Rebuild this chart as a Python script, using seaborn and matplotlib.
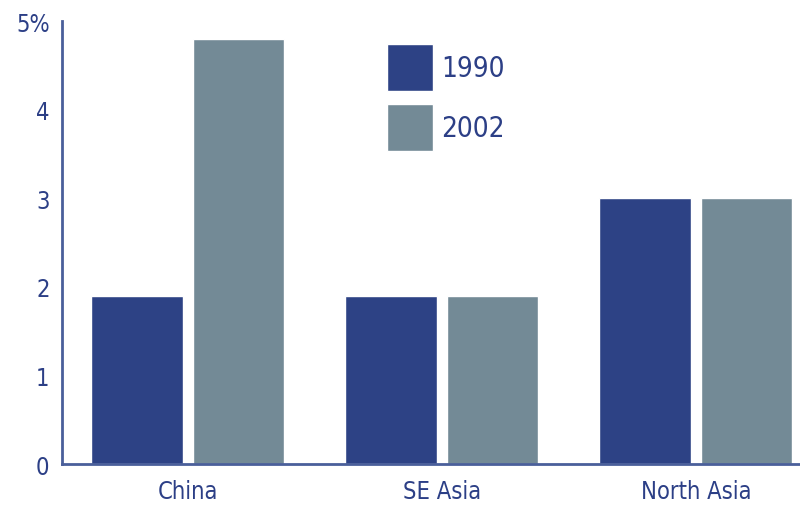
import matplotlib
matplotlib.use("Agg")
import matplotlib.pyplot as plt
import seaborn as sns
import pandas as pd

regions = ["China", "SE Asia", "North Asia"]
years = ["1990", "2002"]
share_1990 = [1.9, 1.9, 3.0]
share_2002 = [4.8, 1.9, 3.0]
y_ticks = [0, 1, 2, 3, 4, 5]
y_labels = ["0", "1", "2", "3", "4", "5%"]

dark_blue = "#2d4285"
slate = "#738a96"
text_col = "#2c3f86"

df = pd.DataFrame({
    "region": regions * 2,
    "year": [years[0]] * 3 + [years[1]] * 3,
    "share": share_1990 + share_2002,
})

sns.set_style("white")
plt.rcParams["font.family"] = ["DejaVu Sans"]
plt.rcParams["font.stretch"] = "condensed"

fig = plt.figure(figsize=(8, 5.06), dpi=100)
ax = fig.add_axes([0.0775, 0.081, 0.9225, 0.8755])

sns.barplot(data=df, x="region", y="share", hue="year", order=regions,
            hue_order=years, palette=[dark_blue, slate], width=0.8, gap=0.1,
            saturation=1, ax=ax, legend=True)

ax.set_xlim(-0.495, 2.41)
ax.set_ylim(0, 5)
ax.set_yticks(y_ticks)
ax.set_yticklabels(y_labels)
ax.set_xlabel("")
ax.set_ylabel("")

for side in ["top", "right"]:
    ax.spines[side].set_visible(False)
for side in ["left", "bottom"]:
    ax.spines[side].set_color("#4a5f9a")
    ax.spines[side].set_linewidth(2)

ax.tick_params(axis="y", direction="in", length=13, width=1.5, color="#4a5f9a",
               pad=9, labelsize=17, labelcolor=text_col)
ax.tick_params(axis="x", length=0, pad=11, labelsize=17, labelcolor=text_col)

leg = ax.legend(loc="upper left", bbox_to_anchor=(0.484, 0.911),
                bbox_transform=fig.transFigure, frameon=False, borderpad=0,
                borderaxespad=0, handlelength=1.65, handleheight=2.2,
                handletextpad=0.3, labelspacing=0.5, fontsize=20)
for t in leg.get_texts():
    t.set_color(text_col)

fig.savefig("out.png", dpi=100)
